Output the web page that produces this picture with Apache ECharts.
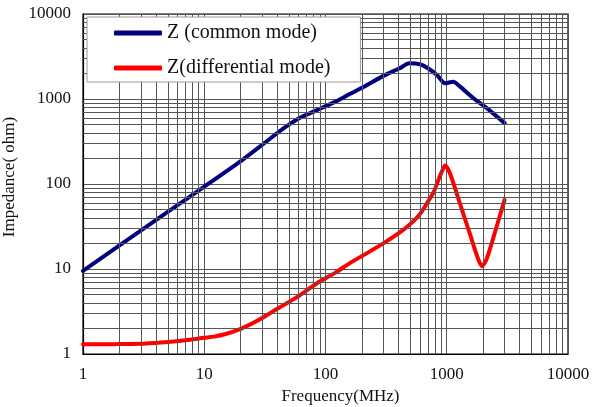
<!DOCTYPE html>
<html>
<head>
<meta charset="utf-8">
<script src="https://cdn.jsdelivr.net/npm/echarts@6/dist/echarts.min.js"></script>
<style>
html,body{margin:0;padding:0;background:#fff;}
#chart{width:592px;height:407px;}
</style>
</head>
<body>
<div id="chart"></div>
<script>
// Frequency (MHz) and impedance (ohm)
const commonFreq = [1, 2, 5, 10, 20, 32, 45, 60, 85, 115, 160, 205, 300, 410, 490, 600, 700, 830, 970, 1130, 1290, 1660, 2140, 3000];
const commonZ    = [9.5, 19, 47, 93, 186, 310, 450, 590, 740, 900, 1150, 1380, 1870, 2300, 2630, 2560, 2300, 1920, 1530, 1600, 1400, 1020, 780, 520];

const diffFreq = [1, 1.5, 2, 3, 4, 5, 7, 10, 12, 15, 20, 25, 30, 40, 60, 85, 120, 160, 200, 300, 440, 565, 620, 700, 780, 850, 920, 970, 1060, 1280, 1550, 1820, 1950, 2130, 2570, 3000];
const diffZ    = [1.30, 1.30, 1.31, 1.32, 1.35, 1.38, 1.45, 1.55, 1.6, 1.72, 1.98, 2.3, 2.65, 3.4, 4.8, 6.8, 9.0, 11.8, 14.2, 20, 29, 40, 47, 62, 80, 110, 145, 165, 135, 60, 26, 13, 10.8, 13, 31, 65];

const seriesNames = ['Z (common mode)', 'Z(differential mode)'];
const xTicks = [1, 10, 100, 1000, 10000];
const yTicks = [1, 10, 100, 1000, 10000];
const minorFactors = [2, 3, 4, 5, 6, 7, 8, 9];

const FONT = 'Liberation Serif';

function pairs(xs, ys) { return xs.map((x, i) => [x, ys[i]]); }

const minorX = [], minorY = [];
for (let d = 0; d < xTicks.length - 1; d++) {
  minorFactors.forEach(f => minorX.push({ xAxis: xTicks[d] * f }));
}
for (let d = 0; d < yTicks.length - 1; d++) {
  minorFactors.forEach(f => minorY.push({ yAxis: yTicks[d] * f }));
}

const chart = echarts.init(document.getElementById('chart'), null, { renderer: 'canvas' });
chart.setOption({
  animation: false,
  backgroundColor: '#fff',
  textStyle: { fontFamily: FONT },
  grid: {
    left: 83, right: 24, top: 14, bottom: 53,
    outerBoundsMode: 'none', containLabel: false,
    show: true, borderColor: '#000', borderWidth: 1.2, backgroundColor: 'transparent'
  },
  legend: {
    data: seriesNames,
    orient: 'vertical',
    left: 87, top: 17,
    padding: [6, 30, 4, 27],
    itemGap: 15,
    itemWidth: 48,
    itemHeight: 5,
    icon: 'roundRect',
    backgroundColor: '#fff',
    borderColor: '#999',
    borderWidth: 1,
    textStyle: { fontFamily: FONT, fontSize: 20, color: '#111' },
    z: 10
  },
  xAxis: {
    type: 'log', logBase: 10, min: xTicks[0], max: xTicks[xTicks.length - 1],
    name: 'Frequency(MHz)', nameLocation: 'middle', nameGap: 30,
    nameTextStyle: { fontFamily: FONT, fontSize: 17, color: '#111', padding: [0, 0, 0, 30] },
    axisLine: { show: true, lineStyle: { color: '#000', width: 1.2 } },
    axisTick: { show: false },
    axisLabel: { fontFamily: FONT, fontSize: 17, color: '#111', margin: 12, formatter: v => String(Math.round(v)) },
    splitLine: { show: true, lineStyle: { color: '#555', width: 1 } }
  },
  yAxis: {
    type: 'log', logBase: 10, min: yTicks[0], max: yTicks[yTicks.length - 1],
    name: 'Impedance( ohm)', nameLocation: 'middle', nameGap: 58,
    nameTextStyle: { fontFamily: FONT, fontSize: 17, color: '#111', padding: [0, 0, 0, 14] },
    axisLine: { show: true, lineStyle: { color: '#000', width: 1.2 } },
    axisTick: { show: false },
    axisLabel: { fontFamily: FONT, fontSize: 17, color: '#111', margin: 12, formatter: v => String(Math.round(v)) },
    splitLine: { show: true, lineStyle: { color: '#555', width: 1 } }
  },
  series: [
    {
      name: '__grid', type: 'line', data: [], silent: true, z: 1,
      markLine: {
        silent: true, symbol: ['none', 'none'], label: { show: false },
        lineStyle: { color: '#555', width: 1, type: 'solid' },
        emphasis: { disabled: true },
        data: minorX.concat(minorY)
      }
    },
    {
      name: seriesNames[0], type: 'line', data: pairs(commonFreq, commonZ),
      showSymbol: false, smooth: 0.25, z: 3,
      lineStyle: { color: '#000080', width: 4, cap: 'round', join: 'round' },
      itemStyle: { color: '#000080' }
    },
    {
      name: seriesNames[1], type: 'line', data: pairs(diffFreq, diffZ),
      showSymbol: false, smooth: 0.25, z: 3,
      lineStyle: { color: '#ff0000', width: 4, cap: 'round', join: 'round' },
      itemStyle: { color: '#ff0000' }
    }
  ]
});
</script>
</body>
</html>
